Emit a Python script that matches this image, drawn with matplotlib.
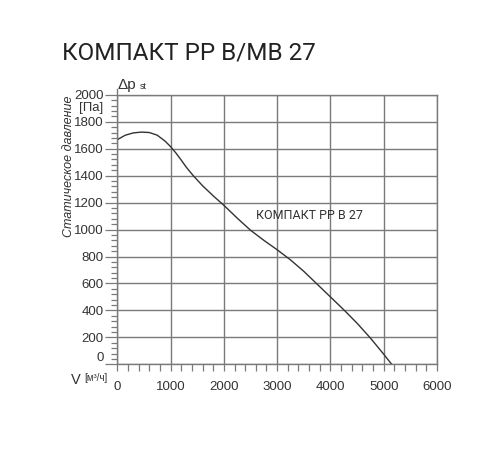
import numpy as np
import matplotlib
matplotlib.use('Agg')
import matplotlib.pyplot as plt
from matplotlib.ticker import MultipleLocator

# Fan curve
flow = [0, 150, 300, 450, 600, 750, 900, 1000, 1100, 1200, 1300, 1425, 1600,
        1800, 2000, 2250, 2500, 2750, 3000, 3250, 3500, 3750, 4000, 4250,
        4500, 4750, 5000, 5150]
pressure = [1667, 1700, 1717, 1723, 1720, 1700, 1655, 1615, 1568, 1515, 1460,
            1400, 1325, 1250, 1180, 1085, 995, 920, 850, 775, 690, 595, 500,
            405, 305, 195, 75, 0]

title = 'КОМПАКТ РР В/МВ 27'
curve_label = 'КОМПАКТ РР В 27'
x_ticks = [0, 1000, 2000, 3000, 4000, 5000, 6000]
y_ticks = [0, 200, 400, 600, 800, 1000, 1200, 1400, 1600, 1800, 2000]

plt.rcParams['font.family'] = ['Liberation Sans', 'DejaVu Sans']
ink = '#333333'
grid = '#7a7a7a'

fig = plt.figure(figsize=(5, 4.5), dpi=100)
ax = fig.add_axes([0.2346, 0.1904, 0.6394, 0.599])

ax.plot(flow, pressure, color=ink, lw=1.0)
ax.set_xlim(0, 6000)
ax.set_ylim(0, 2000)

ax.set_xticks(x_ticks)
ax.set_yticks(y_ticks)
ax.xaxis.set_minor_locator(MultipleLocator(200))
ax.yaxis.set_minor_locator(MultipleLocator(40))
ax.set_xticklabels([str(v) for v in x_ticks])
ax.set_yticklabels([str(v) if v != 0 else '' for v in y_ticks])
ax.tick_params(axis='both', which='both', colors=grid, labelcolor=ink,
               labelsize=9.5, width=0.9)
ax.tick_params(axis='y', which='major', length=9, pad=1)
ax.tick_params(axis='y', which='minor', length=4)
ax.tick_params(axis='x', which='both', length=5, pad=7)
ax.grid(True, which='major', color=grid, lw=1.0)

for side in ['top', 'right', 'left', 'bottom']:
    ax.spines[side].set_color(grid)
    ax.spines[side].set_linewidth(1.0)
ax.spines['left'].set_bounds(0, 2040)

# Axis captions
ax.text(-260, 50, '0', ha='right', va='center', fontsize=9.5, color=ink)
ax.text(-270, 1905, '[Па]', ha='right', va='center', fontsize=9.5, color=ink)
ax.text(0, 2022, 'Δp', ha='left', va='bottom', fontsize=11, color=ink)
ax.text(420, 2030, 'st', ha='left', va='bottom', fontsize=6.5, color=ink)
ax.text(-775, -118, 'V', ha='center', va='center', fontsize=10.5, color=ink)
ax.text(-620, -105, '[м³/ч]', ha='left', va='center', fontsize=7, color=ink)
fig.text(0.138, 0.631, 'Статическое давление', rotation=90, style='italic',
         ha='center', va='center', fontsize=9, color=ink)

ax.text(2600, 1106, curve_label, ha='left', va='center', fontsize=9,
        color=ink, family=['Roboto', 'DejaVu Sans'])

fig.text(0.124, 0.882, title, ha='left', va='center', fontsize=17.5,
         color='#222222', family=['Roboto', 'DejaVu Sans'])

fig.savefig('out.png', dpi=100)
